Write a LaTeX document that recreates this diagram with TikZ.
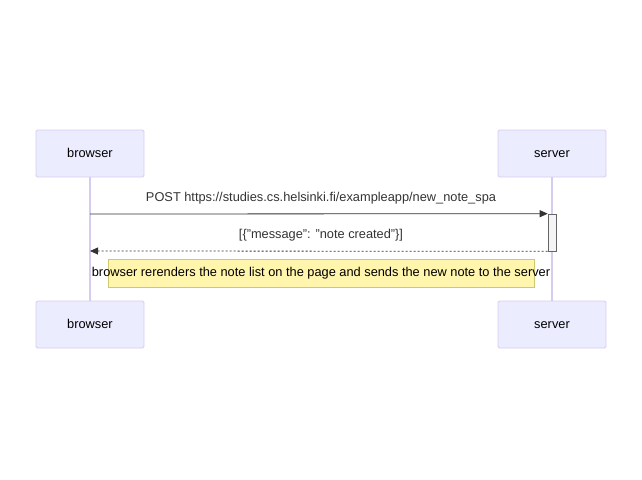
\documentclass[tikz,border=0pt]{standalone}
\usepackage{fontspec}
\setmainfont{Liberation Sans}
\usetikzlibrary{arrows.meta}
\definecolor{actfill}{HTML}{ECECFF}
\definecolor{actline}{HTML}{D6CCF2}
\definecolor{notefill}{HTML}{FFF5AD}
\definecolor{noteline}{HTML}{D0C870}
\definecolor{msgcol}{HTML}{333333}
\definecolor{actvfill}{HTML}{F4F4F4}
\definecolor{actvline}{HTML}{666666}
\tikzset{
  actor/.style={draw=actline, fill=actfill, line width=0.8pt, rounded corners=1.5pt,
    minimum width=108pt, minimum height=47pt, inner sep=0pt, text height=10pt, text depth=1.4pt,
    font=\fontsize{12.8}{14}\selectfont},
  lifeline/.style={draw=actline, line width=1.1pt},
  msglabel/.style={text=msgcol, font=\fontsize{12.8}{14}\selectfont, inner sep=0pt,
    text height=9.6pt, text depth=2.2pt},
  msgline/.style={draw=msgcol, line width=0.8pt, -{Triangle[length=8pt,width=7pt]}},
  retline/.style={draw=msgcol, line width=0.8pt, dash pattern=on 2pt off 2pt, -{Triangle[length=8pt,width=7pt]}},
  notebox/.style={draw=noteline, fill=notefill, line width=0.8pt, minimum width=426pt, minimum height=28pt, inner sep=0pt},
  activation/.style={draw=actvline, fill=actvfill, line width=0.6pt, minimum width=8pt, minimum height=37pt, inner sep=0pt},
}
\begin{document}
\begin{tikzpicture}[x=1pt,y=-1pt]
\useasboundingbox (0,0) rectangle (642,479);
\node[actor] (bt) at (90,153.5) {browser};
\node[actor] (st) at (552,153.5) {server};
\node[actor] (bb) at (90,324.5) {browser};
\node[actor] (sb) at (552,324.5) {server};
\draw[lifeline] (bt.south) -- (bb.north);
\draw[lifeline] (st.south) -- (sb.north);
\node[activation] (act) at (552,232.5) {};
\coordinate (m1s) at (90,214);
\coordinate (m2e) at (90,251);
\draw[msgline] (m1s) -- (act.north west);
\draw[retline] (act.south west) -- (m2e);
\node[msglabel] (l1) at (321,198) {POST https://studies.cs.helsinki.fi/exampleapp/new\_note\_spa};
\node[msglabel] (l2) at (321,235) {[\{"message": "note created"\}]};
\node[notebox] (note) at (321,273) {};
\node[msglabel, text=black] (nt) at (321,272.5) {browser rerenders the note list on the page and sends the new note to the server};
\end{tikzpicture}
\end{document}
